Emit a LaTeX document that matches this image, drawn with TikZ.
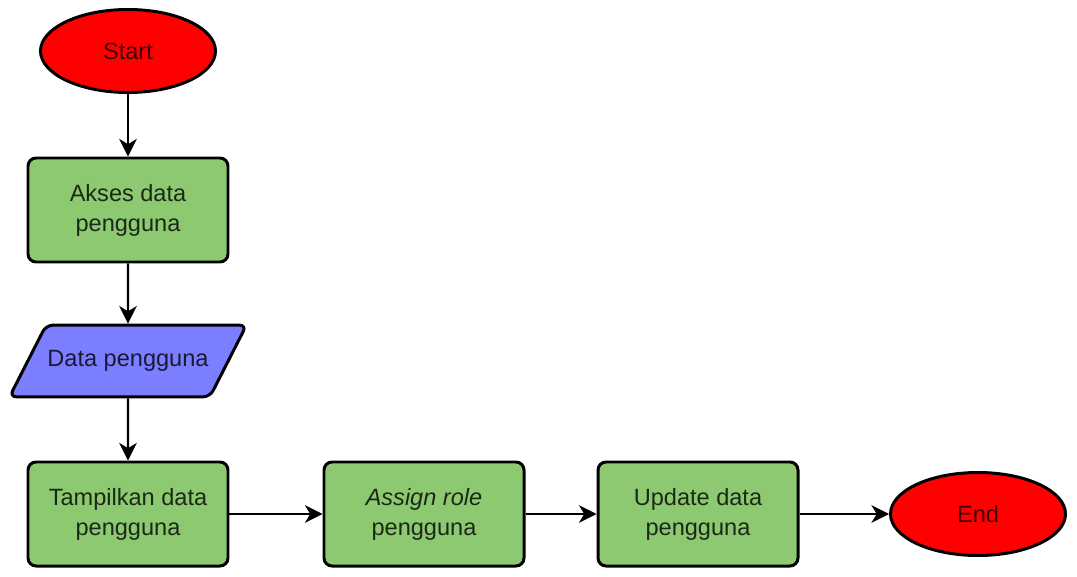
\documentclass[tikz,border=0pt]{standalone}
\usepackage{fontspec}
\setmainfont{Liberation Sans}
\usetikzlibrary{shapes.geometric,arrows.meta}

\definecolor{termred}{HTML}{FF0000}
\definecolor{procgreen}{HTML}{8CC970}
\definecolor{ioblue}{HTML}{7B7EFF}

\begin{document}
\begin{tikzpicture}[line width=1.7pt, font=\fontsize{13.4}{17}\selectfont,
    term/.style = {draw, ellipse, fill=termred, minimum width=3.5cm, minimum height=1.66cm, inner sep=0pt, text opacity=0.75},
    proc/.style = {draw, rounded corners=0.16cm, fill=procgreen, minimum width=4.0cm, minimum height=2.08cm, align=center, text opacity=0.8},
    io/.style = {draw, trapezium, trapezium left angle=63, trapezium right angle=117, trapezium stretches body=true, rounded corners=0.14cm, fill=ioblue, minimum width=4.74cm, text height=9.6pt, text depth=2.8pt, inner xsep=0pt, inner ysep=0.5cm, text opacity=0.8},
    flow/.style = {line width=1.2pt, -{Stealth[length=10pt, width=10pt, inset=3pt]}}]
    \useasboundingbox (0,0) rectangle (21.54,-11.52);
                \node[term] (1) at (2.56,-1.02) {Start};
                \node[proc] (2) at (2.56,-4.20) {Akses data\\pengguna};
                \node[io]   (3) at (2.56,-7.22) {Data pengguna};
                \node[proc] (4) at (2.56,-10.28) {Tampilkan data\\pengguna};
                \node[proc] (5) at (8.48,-10.28) {\textit{Assign role}\\pengguna};
                \node[proc] (6) at (13.96,-10.28) {Update data\\pengguna};
                \node[term] (7) at (19.56,-10.28) {End};
                \draw[flow] (1) to (2);
                \draw[flow] (2) to (3);
                \draw[flow] (3) to (4);
                \draw[flow] (4) to (5);
                \draw[flow] (5) to (6);
                \draw[flow] (6) to (7);
            \end{tikzpicture}
\end{document}
